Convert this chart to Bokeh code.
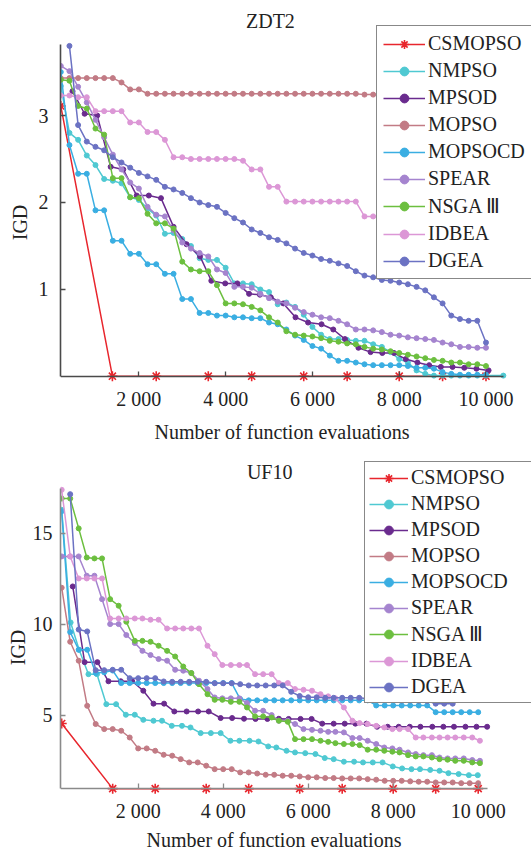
from bokeh.plotting import figure
from bokeh.layouts import column
from bokeh.models import FixedTicker, Range1d, Legend, LegendItem, Label
from bokeh.embed import file_html
from bokeh.resources import INLINE

FONT = "Liberation Serif"

NAMES = ["CSMOPSO", "NMPSO", "MPSOD", "MOPSO", "MOPSOCD", "SPEAR", "NSGA Ⅲ", "IDBEA", "DGEA"]
COLORS = ["#e8262d", "#4fc9d2", "#6a2b8e", "#c27b85", "#3aaee2", "#a584cf", "#6cbf3f", "#dc97d6", "#6b72c3"]

X_TICKS = [2000, 4000, 6000, 8000, 10000]
X_TICK_LABELS = ["2 000", "4 000", "6 000", "8 000", "10 000"]

# shared evaluation grid (200 evaluations per generation)
X50 = [200, 400, 600, 800, 1000, 1200, 1400, 1600, 1800, 2000,
       2200, 2400, 2600, 2800, 3000, 3200, 3400, 3600, 3800, 4000,
       4200, 4400, 4600, 4800, 5000, 5200, 5400, 5600, 5800, 6000,
       6200, 6400, 6600, 6800, 7000, 7200, 7400, 7600, 7800, 8000,
       8200, 8400, 8600, 8800, 9000, 9200, 9400, 9600, 9800, 10000]

# ---------------- ZDT2 ----------------
zdt2_cs_x = [200, 1390, 2400, 3600, 4600, 5800, 6800, 8000, 9000, 10000]
zdt2_cs_y = [3.11, 0.003, 0.003, 0.003, 0.003, 0.003, 0.003, 0.003, 0.003, 0.003]

zdt2_nm_x = X50 + [10400]
zdt2_nm_y = [3.34, 2.80, 2.72, 2.54, 2.43, 2.27, 2.25, 2.22, 2.06, 2.03,
             1.93, 1.85, 1.64, 1.65, 1.58, 1.50, 1.36, 1.34, 1.34, 1.25,
             1.07, 1.07, 1.06, 1.00, 0.97, 0.83, 0.85, 0.80, 0.71, 0.57,
             0.48, 0.43, 0.43, 0.42, 0.41, 0.41, 0.37, 0.34, 0.28, 0.20,
             0.16, 0.07, 0.03, 0.01, 0.01, 0.01, 0.01, 0.01, 0.01, 0.01, 0.01]

zdt2_mp_x = [470, 750, 1040, 1350, 1640, 1950, 2230, 2510, 2800, 3100,
             3410, 3670, 3990, 4270, 4540, 4790, 5040, 5330, 5610, 5900,
             6210, 6480, 6750, 7060, 7340, 7610, 7880, 8150, 8420, 8690,
             8960, 9230, 9500, 9780, 10060]
zdt2_mp_y = [3.28, 3.02, 3.00, 2.41, 2.38, 2.08, 2.08, 2.05, 1.72, 1.52,
             1.38, 1.10, 1.07, 1.07, 0.95, 0.94, 0.91, 0.84, 0.68, 0.62,
             0.60, 0.54, 0.43, 0.33, 0.28, 0.27, 0.27, 0.20, 0.16, 0.13,
             0.11, 0.11, 0.10, 0.09, 0.07]

zdt2_mo_x = X50[:38]
zdt2_mo_y = [3.43, 3.43, 3.43, 3.43, 3.43, 3.43, 3.43, 3.38, 3.30, 3.30,
             3.25, 3.25, 3.25, 3.25, 3.25, 3.25, 3.25, 3.25, 3.25, 3.25,
             3.25, 3.25, 3.25, 3.25, 3.25, 3.25, 3.25, 3.25, 3.25, 3.25,
             3.25, 3.25, 3.25, 3.25, 3.25, 3.24, 3.24, 3.24]

zdt2_mc_x = X50
zdt2_mc_y = [3.50, 2.66, 2.33, 2.33, 1.91, 1.91, 1.56, 1.56, 1.41, 1.41,
             1.29, 1.29, 1.18, 1.18, 0.89, 0.89, 0.73, 0.73, 0.70, 0.70,
             0.68, 0.68, 0.67, 0.67, 0.62, 0.60, 0.54, 0.47, 0.42, 0.35,
             0.32, 0.24, 0.18, 0.18, 0.16, 0.14, 0.13, 0.13, 0.13, 0.13,
             0.12, 0.10, 0.10, 0.09, 0.05, 0.03, 0.02, 0.02, 0.02, 0.02]

zdt2_sp_x = X50
zdt2_sp_y = [3.57, 3.51, 3.33, 3.15, 2.95, 2.75, 2.55, 2.38, 2.23, 2.16,
             1.95, 1.86, 1.84, 1.68, 1.54, 1.47, 1.42, 1.38, 1.23, 1.19,
             1.03, 1.03, 1.02, 0.95, 0.90, 0.86, 0.84, 0.79, 0.74, 0.71,
             0.68, 0.67, 0.64, 0.60, 0.54, 0.54, 0.53, 0.51, 0.48, 0.47,
             0.45, 0.44, 0.43, 0.42, 0.39, 0.37, 0.34, 0.34, 0.33, 0.33]

zdt2_ns_x = X50
zdt2_ns_y = [3.41, 3.40, 3.11, 3.08, 2.85, 2.78, 2.28, 2.28, 2.06, 2.05,
             1.87, 1.76, 1.76, 1.70, 1.32, 1.23, 1.21, 1.21, 1.05, 0.84,
             0.84, 0.83, 0.80, 0.76, 0.68, 0.62, 0.52, 0.48, 0.47, 0.46,
             0.44, 0.41, 0.40, 0.38, 0.37, 0.34, 0.32, 0.31, 0.29, 0.27,
             0.25, 0.23, 0.21, 0.19, 0.18, 0.16, 0.16, 0.14, 0.14, 0.12]

zdt2_id_x = X50[:38]
zdt2_id_y = [3.23, 3.23, 3.21, 3.21, 3.05, 3.05, 3.05, 3.05, 2.92, 2.92,
             2.81, 2.81, 2.72, 2.52, 2.52, 2.50, 2.50, 2.50, 2.50, 2.50,
             2.50, 2.48, 2.38, 2.38, 2.18, 2.18, 2.01, 2.01, 2.01, 2.01,
             2.01, 2.01, 2.01, 2.01, 2.01, 1.84, 1.84, 1.84]

zdt2_dg_x = X50[1:]
zdt2_dg_y = [3.80, 2.89, 2.70, 2.64, 2.60, 2.52, 2.46, 2.40, 2.34, 2.30,
             2.26, 2.18, 2.15, 2.11, 2.05, 2.00, 1.97, 1.95, 1.88, 1.82,
             1.77, 1.69, 1.65, 1.60, 1.57, 1.53, 1.47, 1.42, 1.39, 1.35,
             1.33, 1.30, 1.27, 1.21, 1.16, 1.14, 1.11, 1.10, 1.08, 1.06,
             1.03, 0.99, 0.91, 0.84, 0.70, 0.66, 0.64, 0.64, 0.39]

# ---------------- UF10 ----------------
uf10_cs_x = [200, 1400, 2400, 3600, 4600, 5800, 6800, 8000, 9000, 10000]
uf10_cs_y = [4.54, 0.96, 0.96, 0.96, 0.96, 0.96, 0.96, 0.96, 0.96, 0.96]

uf10_nm_x = [200, 410, 610, 830, 1030, 1250, 1480, 1710, 1920, 2120,
             2360, 2560, 2790, 3030, 3230, 3470, 3710, 3940, 4170, 4380,
             4620, 4830, 5060, 5250, 5490, 5690, 5930, 6170, 6390, 6600,
             6840, 7080, 7290, 7520, 7750, 7990, 8210, 8430, 8630, 8870,
             9090, 9300, 9540, 9780, 9990]
uf10_nm_y = [16.28, 10.09, 8.59, 7.25, 7.25, 5.60, 5.60, 5.02, 5.02, 4.74,
             4.69, 4.69, 4.41, 4.41, 4.32, 4.01, 4.01, 4.01, 3.59, 3.59,
             3.59, 3.55, 3.28, 3.22, 3.04, 2.95, 2.91, 2.86, 2.64, 2.58,
             2.44, 2.44, 2.40, 2.40, 2.40, 2.18, 2.07, 2.03, 2.03, 1.99,
             1.94, 1.81, 1.76, 1.70, 1.70]

uf10_mp_x = [460, 740, 1040, 1300, 1590, 1860, 2120, 2360, 2610, 2850,
             3140, 3410, 3660, 3940, 4210, 4490, 4760, 5040, 5310, 5540,
             5820, 6080, 6330, 6600, 6860, 7110, 7370, 7620, 7870, 8130,
             8390, 8640, 8920, 9180, 9430, 9700, 9960, 10210]
uf10_mp_y = [12.07, 7.91, 7.91, 6.86, 6.86, 6.86, 6.34, 5.63, 5.63, 5.20,
             5.20, 5.20, 5.20, 4.84, 4.84, 4.80, 4.79, 4.79, 4.80, 4.79,
             4.79, 4.79, 4.53, 4.53, 4.53, 4.53, 4.53, 4.36, 4.36, 4.36,
             4.36, 4.36, 4.36, 4.36, 4.36, 4.36, 4.36, 4.36]

uf10_mo_x = X50
uf10_mo_y = [12.0, 9.03, 7.99, 5.51, 4.51, 4.23, 4.23, 4.14, 3.77, 3.17,
             3.17, 3.04, 2.82, 2.77, 2.58, 2.40, 2.40, 2.22, 2.03, 2.03,
             2.03, 1.85, 1.85, 1.79, 1.72, 1.72, 1.67, 1.67, 1.63, 1.58,
             1.58, 1.54, 1.54, 1.52, 1.52, 1.52, 1.48, 1.45, 1.39, 1.39,
             1.39, 1.36, 1.34, 1.34, 1.30, 1.30, 1.30, 1.26, 1.26, 1.26]

uf10_mc_x = X50
uf10_mc_y = [16.2, 9.56, 8.59, 8.59, 7.31, 7.35, 7.45, 6.76, 6.76, 6.76,
             6.76, 6.76, 6.76, 6.76, 6.76, 6.76, 6.76, 6.76, 6.76, 6.76,
             6.76, 5.88, 5.81, 5.81, 5.81, 5.81, 5.81, 5.81, 5.81, 5.81,
             5.81, 5.81, 5.81, 5.81, 5.81, 5.81, 5.81, 5.53, 5.53, 5.53,
             5.53, 5.53, 5.53, 5.53, 5.16, 5.16, 5.16, 5.16, 5.16, 5.16]

# grid read for SPEAR / NSGA III / IDBEA
X53 = [200, 400, 600, 790, 970, 1150, 1340, 1540, 1720, 1920,
       2100, 2290, 2480, 2680, 2870, 3060, 3250, 3430, 3630, 3800,
       3980, 4180, 4380, 4560, 4750, 4940, 5140, 5310, 5520, 5690,
       5890, 6090, 6290, 6470, 6640, 6840, 7040, 7210, 7400, 7600,
       7790, 7980, 8150, 8350, 8530, 8710, 8910, 9090, 9280, 9460,
       9660, 9860, 10040]

uf10_sp_x = X53
uf10_sp_y = [13.72, 13.72, 13.72, 12.66, 12.66, 11.37, 10.0, 10.0, 9.40, 8.96,
             8.53, 8.30, 8.08, 7.99, 7.49, 7.44, 7.31, 6.89, 6.43, 5.97,
             5.92, 5.92, 5.92, 5.66, 5.24, 5.24, 5.0, 4.69, 4.69, 4.51,
             4.23, 4.19, 4.14, 4.08, 4.08, 4.05, 3.74, 3.74, 3.59, 3.41,
             3.22, 3.17, 3.10, 2.95, 2.86, 2.80, 2.80, 2.67, 2.62, 2.62,
             2.62, 2.53, 2.49]

uf10_ns_x = X53
uf10_ns_y = [16.90, 16.90, 15.26, 13.66, 13.61, 13.61, 11.37, 11.01, 10.13, 9.08,
             9.08, 9.03, 8.81, 8.53, 8.22, 7.67, 7.31, 6.70, 6.15, 5.84,
             5.84, 5.73, 5.73, 5.42, 4.93, 4.93, 4.87, 4.69, 4.63, 3.68,
             3.68, 3.68, 3.59, 3.53, 3.46, 3.41, 3.41, 3.35, 3.10, 3.10,
             3.04, 2.99, 2.95, 2.80, 2.73, 2.73, 2.67, 2.58, 2.55, 2.49,
             2.49, 2.40, 2.36]

uf10_id_x = X53
uf10_id_y = [17.38, 13.72, 12.51, 12.51, 12.51, 12.51, 10.31, 10.31, 10.31, 10.31,
             10.31, 10.24, 10.24, 9.76, 9.76, 9.76, 9.76, 9.76, 8.81, 8.35,
             7.75, 7.75, 7.75, 7.75, 7.25, 7.25, 7.25, 6.76, 6.76, 6.43,
             6.39, 6.34, 6.15, 6.03, 5.92, 5.42, 4.69, 4.56, 4.51, 4.41,
             4.32, 4.23, 4.23, 4.23, 3.77, 3.77, 3.77, 3.77, 3.77, 3.77,
             3.77, 3.77, 3.59]

uf10_dg_x = X50[1:47]
uf10_dg_y = [17.14, 9.70, 9.60, 7.47, 7.47, 7.49, 7.49, 7.03, 7.03, 7.03,
             7.03, 6.85, 6.83, 6.83, 6.83, 6.83, 6.83, 6.75, 6.75, 6.75,
             6.70, 6.63, 6.63, 6.63, 6.63, 6.63, 6.28, 6.05, 5.98, 5.98,
             5.95, 5.95, 5.95, 5.95, 5.95, 5.90, 5.86, 5.84, 5.82, 5.80,
             5.80, 5.79, 5.78, 5.63, 5.63, 5.63]

ZDT2 = [(zdt2_cs_x, zdt2_cs_y), (zdt2_nm_x, zdt2_nm_y), (zdt2_mp_x, zdt2_mp_y),
        (zdt2_mo_x, zdt2_mo_y), (zdt2_mc_x, zdt2_mc_y), (zdt2_sp_x, zdt2_sp_y),
        (zdt2_ns_x, zdt2_ns_y), (zdt2_id_x, zdt2_id_y), (zdt2_dg_x, zdt2_dg_y)]
UF10 = [(uf10_cs_x, uf10_cs_y), (uf10_nm_x, uf10_nm_y), (uf10_mp_x, uf10_mp_y),
        (uf10_mo_x, uf10_mo_y), (uf10_mc_x, uf10_mc_y), (uf10_sp_x, uf10_sp_y),
        (uf10_ns_x, uf10_ns_y), (uf10_id_x, uf10_id_y), (uf10_dg_x, uf10_dg_y)]


def make_panel(title, title_xy, series, xr, yr, x_axis_at, x_bounds, y_bounds, yticks,
               height, left, axis_color, ylab_standoffs, xlab_standoffs,
               legend_loc, legend_spacing, legend_padding, glyph_width):
    p = figure(width=531, height=height, output_backend="svg", toolbar_location=None,
               title=None, x_range=Range1d(*xr), y_range=Range1d(*yr),
               min_border_left=left, min_border_right=0,
               min_border_top=0, min_border_bottom=0)
    p.background_fill_color = "white"
    p.border_fill_color = "white"
    p.outline_line_color = None
    p.grid.visible = False

    for ax in (p.xaxis[0], p.yaxis[0]):
        ax.axis_line_color = axis_color
        ax.axis_line_width = 1.6
        ax.major_tick_line_color = axis_color
        ax.major_tick_line_width = 1.3
        ax.major_tick_in = 5
        ax.major_tick_out = 0
        ax.minor_tick_line_color = None
        ax.major_label_text_font = FONT
        ax.major_label_text_font_size = "20px"
        ax.major_label_text_color = "#222222"
        ax.axis_label_text_font = FONT
        ax.axis_label_text_font_size = "20px"
        ax.axis_label_text_font_style = "normal"
        ax.axis_label_text_color = "#222222"

    p.xaxis.ticker = FixedTicker(ticks=X_TICKS)
    p.xaxis.major_label_overrides = {t: s for t, s in zip(X_TICKS, X_TICK_LABELS)}
    p.xaxis.axis_label = "Number of function evaluations"
    p.xaxis.major_label_standoff = xlab_standoffs[0]
    p.xaxis.axis_label_standoff = xlab_standoffs[1]
    p.xaxis.bounds = x_bounds
    p.xaxis.fixed_location = x_axis_at

    p.yaxis.ticker = FixedTicker(ticks=yticks)
    p.yaxis.axis_label = "IGD"
    p.yaxis.major_label_standoff = ylab_standoffs[0]
    p.yaxis.axis_label_standoff = ylab_standoffs[1]
    p.yaxis.bounds = y_bounds

    items = []
    for name, color, (xs, ys) in zip(NAMES, COLORS, series):
        r_line = p.line(xs, ys, line_color=color, line_width=1.5)
        if name == "CSMOPSO":
            r_pts = p.scatter(xs, ys, marker="asterisk", size=10, line_color=color,
                              line_width=1.6)
        else:
            r_pts = p.scatter(xs, ys, marker="circle", size=5, line_color=color,
                              fill_color=color)
        items.append(LegendItem(label=name, renderers=[r_line, r_pts]))

    p.add_layout(Label(x=title_xy[0], y=title_xy[1], text=title, text_font=FONT,
                       text_font_size="20px", text_color="#222222",
                       text_align="center", text_baseline="middle"))

    legend = Legend(items=items, location=legend_loc)
    legend.border_line_color = "#111111"
    legend.border_line_width = 1.5
    legend.background_fill_color = "white"
    legend.background_fill_alpha = 1.0
    legend.label_text_font = FONT
    legend.label_text_font_size = "20px"
    legend.label_text_color = "#222222"
    legend.glyph_width = glyph_width
    legend.glyph_height = 22
    legend.label_height = 22
    legend.label_width = 150
    legend.label_standoff = 3
    legend.spacing = legend_spacing
    legend.padding = legend_padding
    legend.margin = 0
    p.add_layout(legend)
    return p


# top panel: rows 0..444, x axis line at row 376 (87 px per IGD unit)
p1 = make_panel("ZDT2", (5032, 4.084), ZDT2, (194, 11049), (-0.782, 4.322), 0,
                (194, 10400), (0, 3.82), [1, 2, 3],
                444, 58, "#4a4a4a", (12, 5), (12, 7),
                (316, 165), 4, 6, 42)
# bottom panel: rows 444..850, x axis line at row 788 (18.2 px per unit)
p2 = make_panel("UF10", (5094, 18.35), UF10, (172, 11254), (-2.44, 19.87), 0.95,
                (172, 10210), (0.95, 17.45), [5, 10, 15],
                406, 60, "#8a8a8a", (8, 1), (11, 4),
                (304, 147), 3, 4, 39)

page = column(p1, p2)
open("out.html", "w").write(file_html(page, INLINE))
